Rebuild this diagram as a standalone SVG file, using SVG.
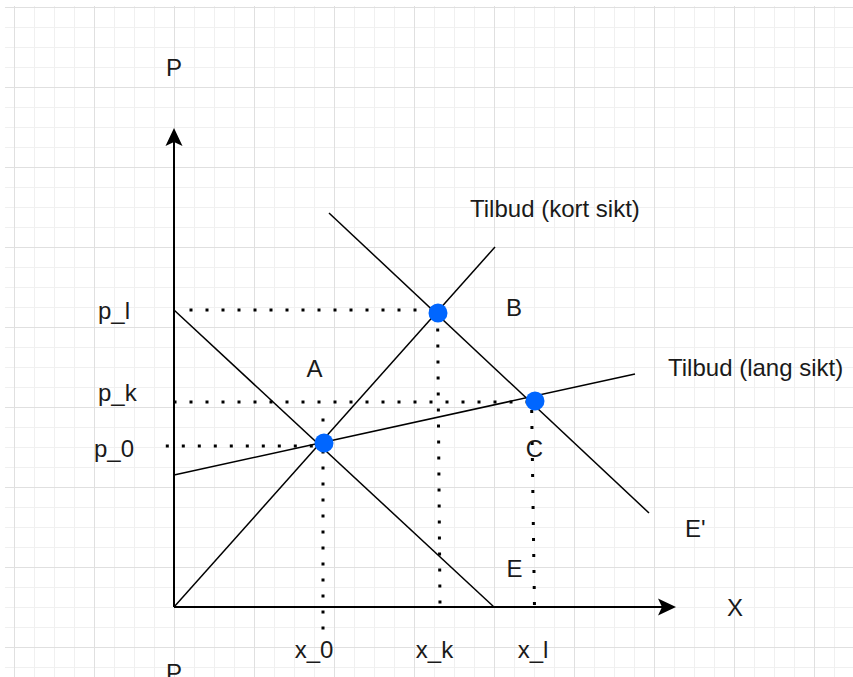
<svg xmlns="http://www.w3.org/2000/svg" width="853" height="677" viewBox="0 0 853 677">
  <defs>
    <pattern id="grid" patternUnits="userSpaceOnUse" x="14" y="7" width="80" height="80">
      <path d="M20.5 0V80M40.5 0V80M60.5 0V80M0 20.5H80M0 40.5H80M0 60.5H80" stroke="#f0f0f0" stroke-width="1" fill="none"/>
      <path d="M0.5 0V80M0 0.5H80" stroke="#e0e0e0" stroke-width="1" fill="none"/>
    </pattern>
    <style>
      .lbl { font-family: "Liberation Sans", Arial, sans-serif; font-size: 24px; fill: #1a1a1a; }
      .mid { text-anchor: middle; }
      .axis { stroke: #000; stroke-width: 2; fill: none; }
      .curve { stroke: #000; stroke-width: 1.5; fill: none; }
      .dot { stroke: #000; stroke-width: 3; stroke-dasharray: 3 13; fill: none; }
      .pt { fill: #0066ff; }
    </style>
  </defs>
  <rect x="0" y="0" width="853" height="677" fill="#ffffff"/>
  <rect x="5" y="6" width="848" height="671" fill="url(#grid)"/>

  <g id="connectors">
    <!-- axes -->
    <line class="axis" x1="174" y1="607" x2="174" y2="140"/>
    <polygon points="174,128 182.5,146 174,142 165.5,146" fill="#000"/>
    <line class="axis" x1="174" y1="607" x2="664" y2="607"/>
    <polygon points="676,607 658,598.5 662,607 658,615.5" fill="#000"/>
    <!-- curves -->
    <line class="curve" x1="174" y1="310" x2="494" y2="607"/>
    <line class="curve" x1="174" y1="607" x2="495" y2="247"/>
    <line class="curve" x1="329" y1="213" x2="649" y2="513"/>
    <line class="curve" x1="174" y1="475" x2="635" y2="374"/>
    <!-- dotted guides -->
    <line class="dot" x1="189.5" y1="310" x2="438" y2="310"/>
    <line class="dot" x1="173.5" y1="402" x2="535" y2="402"/>
    <line class="dot" x1="165.8" y1="446" x2="324" y2="446"/>
    <line class="dot" x1="323" y1="418.5" x2="323" y2="632"/>
    <line class="dot" x1="437.7" y1="328.5" x2="440" y2="606"/>
    <line class="dot" x1="531.7" y1="410" x2="534.5" y2="608"/>
  </g>

  <g id="point-A"><circle class="pt" cx="324" cy="443" r="9.5"/></g>
  <g id="point-B"><circle class="pt" cx="438" cy="313" r="9.5"/></g>
  <g id="point-C"><circle class="pt" cx="535" cy="401" r="9.5"/></g>

  <g id="label-P-top"><text class="lbl mid" x="174" y="76">P</text></g>
  <g id="label-P-bottom"><text class="lbl mid" x="174" y="681">P</text></g>
  <g id="label-X"><text class="lbl mid" x="735" y="616">X</text></g>
  <g id="label-pl"><text class="lbl" x="98" y="319">p_l</text></g>
  <g id="label-pk"><text class="lbl" x="98" y="401">p_k</text></g>
  <g id="label-p0"><text class="lbl" x="94" y="457">p_0</text></g>
  <g id="label-x0"><text class="lbl mid" x="314" y="658">x_0</text></g>
  <g id="label-xk"><text class="lbl mid" x="434.5" y="658">x_k</text></g>
  <g id="label-xl"><text class="lbl mid" x="533" y="658">x_l</text></g>
  <g id="label-A"><text class="lbl mid" x="314.5" y="377">A</text></g>
  <g id="label-B"><text class="lbl mid" x="514" y="316">B</text></g>
  <g id="label-C"><text class="lbl mid" x="534.5" y="457">C</text></g>
  <g id="label-E"><text class="lbl mid" x="514.5" y="577">E</text></g>
  <g id="label-E2"><text class="lbl" x="685" y="537">E'</text></g>
  <g id="label-kort"><text class="lbl" x="470" y="217">Tilbud (kort sikt)</text></g>
  <g id="label-lang"><text class="lbl" x="668" y="376">Tilbud (lang sikt)</text></g>
</svg>
